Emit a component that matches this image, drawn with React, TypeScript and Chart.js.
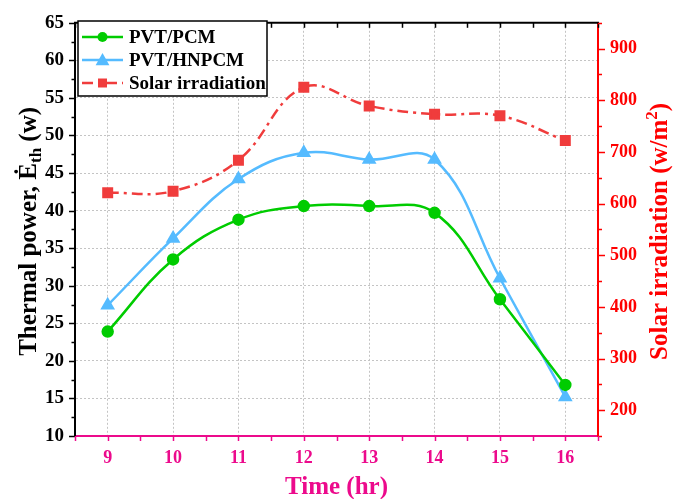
import React, { useEffect, useRef } from "react";
import { Chart, registerables } from "chart.js";

Chart.register(...registerables);

const hours = [9, 10, 11, 12, 13, 14, 15, 16];
const pvtPcm = [23.9, 33.5, 38.8, 40.6, 40.6, 39.7, 28.2, 16.8];
const pvtHnpcm = [27.4, 36.3, 44.2, 47.7, 46.8, 46.8, 31.0, 15.2];
const solarIrradiation = [621, 624, 684, 825, 789, 773, 770, 722];

const xTicks = [9, 10, 11, 12, 13, 14, 15, 16];
const leftTicks = [10, 15, 20, 25, 30, 35, 40, 45, 50, 55, 60, 65];
const rightTicks = [200, 300, 400, 500, 600, 700, 800, 900];

const FONT = "'Liberation Serif', 'Times New Roman', serif";
const PINK = "#ec0a8c";
const RED_AXIS = "#ff0000";
const GREEN = "#00cc00";
const BLUE = "#55bbff";
const RED = "#f03c3c";

function drawMarker(ctx: CanvasRenderingContext2D, style: string, x: number, y: number, r: number, color: string) {
  ctx.save();
  ctx.fillStyle = color;
  ctx.beginPath();
  if (style === "circle") {
    ctx.arc(x, y, r, 0, Math.PI * 2);
  } else if (style === "triangle") {
    const s = r * 1.15;
    ctx.moveTo(x, y - s);
    ctx.lineTo(x + s, y + s * 0.75);
    ctx.lineTo(x - s, y + s * 0.75);
    ctx.closePath();
  } else {
    const s = r * 0.75;
    ctx.rect(x - s, y - s, 2 * s, 2 * s);
  }
  ctx.fill();
  ctx.restore();
}

const decorPlugin = {
  id: "decor",
  afterDraw(chart: any) {
    const ctx: CanvasRenderingContext2D = chart.ctx;
    const { left, right, top, bottom } = chart.chartArea;
    const x = chart.scales.x;
    const y = chart.scales.y;
    const y1 = chart.scales.y1;
    ctx.save();
    // top border
    ctx.strokeStyle = "#000";
    ctx.lineWidth = 2;
    ctx.beginPath();
    ctx.moveTo(left - 1, top);
    ctx.lineTo(right + 1, top);
    ctx.stroke();
    // top ticks (inward)
    ctx.lineWidth = 1.5;
    for (let v = 8.5; v <= 16.5001; v += 0.5) {
      const px = Math.round(x.getPixelForValue(v)) + 0.5;
      ctx.beginPath();
      ctx.moveTo(px, top);
      ctx.lineTo(px, top + 5);
      ctx.stroke();
    }
    // left ticks (outward)
    ctx.strokeStyle = "#000";
    for (let v = 10; v <= 65.001; v += 2.5) {
      const major = Math.abs(v % 5) < 0.001;
      const py = Math.round(y.getPixelForValue(v)) + 0.5;
      ctx.beginPath();
      ctx.moveTo(left - (major ? 6 : 3.5), py);
      ctx.lineTo(left, py);
      ctx.stroke();
    }
    // right ticks
    ctx.strokeStyle = RED_AXIS;
    for (let v = 150; v <= 950.01; v += 50) {
      const major = v % 100 === 0;
      const py = Math.round(y1.getPixelForValue(v)) + 0.5;
      ctx.beginPath();
      ctx.moveTo(right, py);
      ctx.lineTo(right + (major ? 7 : 4), py);
      ctx.stroke();
    }
    // bottom ticks
    ctx.strokeStyle = PINK;
    for (let v = 8.5; v <= 16.5001; v += 0.5) {
      const px = Math.round(x.getPixelForValue(v)) + 0.5;
      ctx.beginPath();
      ctx.moveTo(px, bottom);
      ctx.lineTo(px, bottom + 5);
      ctx.stroke();
    }

    // axis titles
    const cy = (top + bottom) / 2 + 2;
    ctx.save();
    ctx.translate(30, cy);
    ctx.rotate(-Math.PI / 2);
    ctx.fillStyle = "#000";
    ctx.textBaseline = "middle";
    ctx.textAlign = "left";
    const main = "bold 25px " + FONT;
    const sub = "bold 17px " + FONT;
    const p1 = "Thermal power, \u0116";
    const p2 = "th";
    const p3 = " (w)";
    ctx.font = main;
    const w1 = ctx.measureText(p1).width;
    const w3 = ctx.measureText(p3).width;
    ctx.font = sub;
    const w2 = ctx.measureText(p2).width;
    let sx = -(w1 + w2 + w3) / 2;
    ctx.font = main;
    ctx.fillText(p1, sx, 0);
    sx += w1;
    ctx.font = sub;
    ctx.fillText(p2, sx, 7);
    sx += w2;
    ctx.font = main;
    ctx.fillText(p3, sx, 0);
    ctx.restore();

    ctx.save();
    ctx.translate(661, cy);
    ctx.rotate(-Math.PI / 2);
    ctx.fillStyle = RED_AXIS;
    ctx.textBaseline = "middle";
    ctx.textAlign = "left";
    const q1 = "Solar irradiation (w/m";
    const q2 = "2";
    const q3 = ")";
    ctx.font = main;
    const v1 = ctx.measureText(q1).width;
    const v3 = ctx.measureText(q3).width;
    ctx.font = sub;
    const v2 = ctx.measureText(q2).width;
    let tx = -(v1 + v2 + v3) / 2;
    ctx.font = main;
    ctx.fillText(q1, tx, 0);
    tx += v1;
    ctx.font = sub;
    ctx.fillText(q2, tx, -8);
    tx += v2;
    ctx.font = main;
    ctx.fillText(q3, tx, 0);
    ctx.restore();

    ctx.fillStyle = PINK;
    ctx.font = main;
    ctx.textAlign = "center";
    ctx.textBaseline = "middle";
    ctx.fillText("Time (hr)", (left + right) / 2, 488);

    // legend
    const bx = 78, by = 21, bw = 189, bh = 75;
    ctx.fillStyle = "#fff";
    ctx.fillRect(bx, by, bw, bh);
    ctx.strokeStyle = "#000";
    ctx.lineWidth = 1.5;
    ctx.strokeRect(bx, by, bw, bh);
    const rows = [37, 60, 83];
    chart.data.datasets.forEach((ds: any, i: number) => {
      const ry = rows[i];
      ctx.save();
      ctx.strokeStyle = ds.borderColor;
      ctx.lineWidth = 2.5;
      ctx.setLineDash(ds.borderDash || []);
      ctx.beginPath();
      ctx.moveTo(82, ry);
      ctx.lineTo(123, ry);
      ctx.stroke();
      ctx.restore();
      drawMarker(ctx, ds.pointStyle, 102.5, ry, ds.pointRadius, ds.pointBackgroundColor);
      ctx.fillStyle = "#000";
      ctx.font = "bold 19px " + FONT;
      ctx.textAlign = "left";
      ctx.textBaseline = "middle";
      ctx.fillText(ds.label, 129, ry + 1);
    });
    ctx.restore();
  },
};

export default function App() {
  const ref = useRef<HTMLCanvasElement | null>(null);
  useEffect(() => {
    if (!ref.current) return;
    const chart = new Chart(ref.current, {
      type: "line",
      data: {
        datasets: [
          {
            label: "PVT/PCM",
            data: hours.map((h, i) => ({ x: h, y: pvtPcm[i] })),
            borderColor: GREEN,
            backgroundColor: GREEN,
            pointBackgroundColor: GREEN,
            pointBorderColor: GREEN,
            pointStyle: "circle",
            pointRadius: 5,
            borderWidth: 2.5,
            tension: 0.4,
            yAxisID: "y",
          },
          {
            label: "PVT/HNPCM",
            data: hours.map((h, i) => ({ x: h, y: pvtHnpcm[i] })),
            borderColor: BLUE,
            backgroundColor: BLUE,
            pointBackgroundColor: BLUE,
            pointBorderColor: BLUE,
            pointStyle: "triangle",
            pointRadius: 6,
            borderWidth: 2.5,
            tension: 0.4,
            yAxisID: "y",
          },
          {
            label: "Solar irradiation",
            data: hours.map((h, i) => ({ x: h, y: solarIrradiation[i] })),
            borderColor: RED,
            backgroundColor: RED,
            pointBackgroundColor: RED,
            pointBorderColor: RED,
            pointStyle: "rect",
            pointRadius: 6,
            borderWidth: 2.5,
            borderDash: [11, 5, 3, 5],
            tension: 0.4,
            yAxisID: "y1",
          },
        ] as any,
      },
      options: {
        animation: false,
        responsive: false,
        layout: { padding: { top: 17, left: 0, right: 0, bottom: 0 } },
        plugins: { legend: { display: false }, tooltip: { enabled: false } },
        scales: {
          x: {
            type: "linear",
            min: 8.5,
            max: 16.5,
            afterBuildTicks: (s: any) => {
              s.ticks = xTicks.map((v) => ({ value: v }));
            },
            afterFit: (s: any) => {
              s.height = 63;
            },
            grid: { color: "#c4c4c4", lineWidth: 1, drawTicks: false },
            border: { color: PINK, width: 2, dash: [2, 2] },
            ticks: {
              color: PINK,
              padding: 12,
              maxRotation: 0,
              font: { family: FONT, size: 18, weight: "bold" },
            },
          },
          y: {
            type: "linear",
            position: "left",
            min: 10,
            max: 65,
            afterBuildTicks: (s: any) => {
              s.ticks = leftTicks.map((v) => ({ value: v }));
            },
            afterFit: (s: any) => {
              s.width = 75;
            },
            grid: { color: "#c4c4c4", lineWidth: 1, drawTicks: false },
            border: { color: "#000", width: 2, dash: [2, 2] },
            ticks: {
              color: "#000",
              padding: 11,
              font: { family: FONT, size: 19, weight: "bold" },
            },
          },
          y1: {
            type: "linear",
            position: "right",
            min: 150,
            max: 950,
            afterBuildTicks: (s: any) => {
              s.ticks = rightTicks.map((v) => ({ value: v }));
            },
            afterFit: (s: any) => {
              s.width = 85;
            },
            grid: { display: false, drawTicks: false },
            border: { color: RED_AXIS, width: 2 },
            ticks: {
              color: RED_AXIS,
              padding: 12,
              font: { family: FONT, size: 18, weight: "bold" },
            },
          },
        },
      } as any,
      plugins: [decorPlugin],
    });
    return () => chart.destroy();
  }, []);
  return (
    <div style={{ position: "fixed", left: 0, top: 0, width: 683, height: 499, background: "#fff" }}>
      <canvas ref={ref} width={683} height={499} />
    </div>
  );
}
